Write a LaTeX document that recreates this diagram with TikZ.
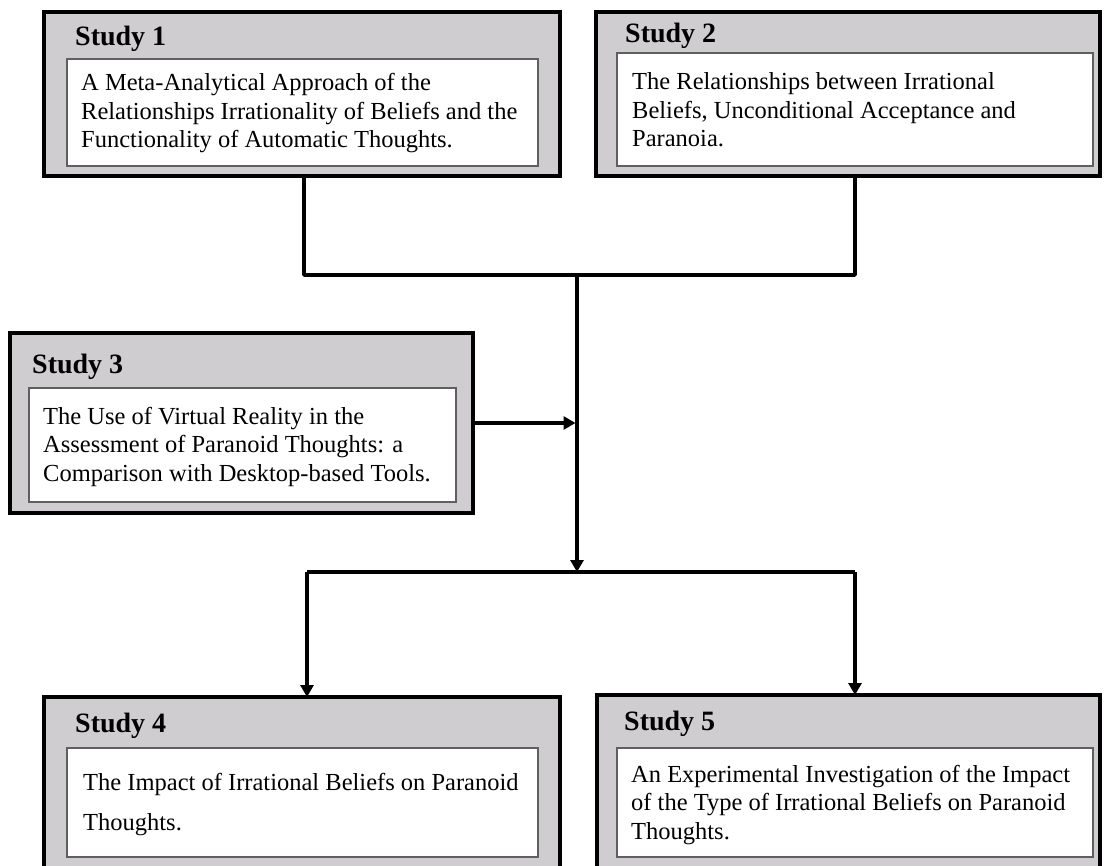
\documentclass[tikz,border=0pt]{standalone}
\usepackage{fontspec}
\setmainfont{Liberation Serif}
\usetikzlibrary{arrows.meta}
\definecolor{boxgray}{RGB}{207,205,208}
\definecolor{innerline}{RGB}{95,95,95}
\tikzset{
  outerbox/.style={draw=black, line width=4.5pt, fill=boxgray, anchor=north west, inner sep=0pt, outer sep=0pt},
  innerbox/.style={draw=innerline, line width=1.8pt, fill=white, anchor=north west, inner sep=0pt, outer sep=0pt},
  titletext/.style={anchor=base west, inner sep=0pt, font=\fontsize{28}{32}\selectfont\bfseries},
  bodytext/.style={anchor=base west, inner sep=0pt, font=\fontsize{24.5}{28.5}\selectfont},
  conn/.style={line width=3.5pt, line join=round},
  arr/.style={conn, -{Triangle[length=12pt,width=13pt]}},
}
\begin{document}
\begin{tikzpicture}[x=1pt,y=-1pt]
\useasboundingbox (0,0) rectangle (1105,866);
\clip (0,0) rectangle (1105,866);
\fill[white] (0,0) rectangle (1105,866);

% Study 1
\node[outerbox, minimum width=516pt, minimum height=164pt] (s1) at (44,12) {};
\node[innerbox, minimum width=471pt, minimum height=107pt] (i1) at (67,59) {};
\node[titletext] (h1) at (75,46) {Study 1};
\node[bodytext] (t1) at (81,91) {\parbox[t]{460pt}{A Meta-Analytical Approach of the\\Relationships Irrationality of Beliefs and the\\Functionality of Automatic Thoughts.}};

% Study 2
\node[outerbox, minimum width=504pt, minimum height=164pt] (s2) at (596,12) {};
\node[innerbox, minimum width=476pt, minimum height=113pt] (i2) at (617,53) {};
\node[titletext] (h2) at (625,43) {Study 2};
\node[bodytext] (t2) at (632,90) {\parbox[t]{450pt}{The Relationships between Irrational\\Beliefs, Unconditional Acceptance and\\Paranoia.}};

% Study 3
\node[outerbox, minimum width=463pt, minimum height=180pt] (s3) at (10,333) {};
\node[innerbox, minimum width=427pt, minimum height=114pt] (i3) at (29,388) {};
\node[titletext] (h3) at (32,373) {Study 3};
\node[bodytext] (t3) at (43,424) {\parbox[t]{410pt}{The Use of Virtual Reality in the\\Assessment of Paranoid Thoughts: a\\Comparison with Desktop-based Tools.}};

% Study 4
\node[outerbox, minimum width=516pt, minimum height=190pt] (s4) at (44,697) {};
\node[innerbox, minimum width=471pt, minimum height=109pt] (i4) at (67,748) {};
\node[titletext] (h4) at (75,732) {Study 4};
\node[bodytext, font=\fontsize{24.5}{40}\selectfont] (t4) at (83,790) {\parbox[t]{450pt}{The Impact of Irrational Beliefs on Paranoid\\Thoughts.}};

% Study 5
\node[outerbox, minimum width=503pt, minimum height=192pt] (s5) at (597,695) {};
\node[innerbox, minimum width=476pt, minimum height=109pt] (i5) at (617,748) {};
\node[titletext] (h5) at (624,730) {Study 5};
\node[bodytext] (t5) at (631,782) {\parbox[t]{455pt}{An Experimental Investigation of the Impact\\of the Type of Irrational Beliefs on Paranoid\\Thoughts.}};

% connectors
\coordinate (jl) at (304,275);
\coordinate (jr) at (855,275);
\coordinate (jc) at (577,275);
\coordinate (bc) at (577,572);
\coordinate (bl) at (307,572);
\coordinate (br) at (855,572);

\draw[conn] (s1.south -| jl) -- (jl) -- (jr) -- (s2.south -| jr);
\draw[arr] (jc) -- (bc);
\draw[arr, shorten >=1.5pt] (s3.east) -- (s3.east -| jc);
\draw[conn] (bl) -- (br);
\draw[arr] (bl) -- (s4.north -| bl);
\draw[arr] (br) -- (s5.north -| br);
\end{tikzpicture}
\end{document}
